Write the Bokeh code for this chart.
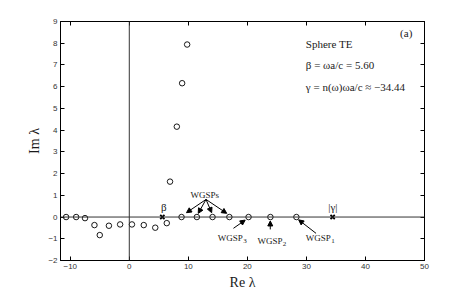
from bokeh.plotting import figure
from bokeh.models import (LinearAxis, Range1d, FixedTicker, Span, Label, Arrow,
                          NormalHead, ColumnDataSource, CustomJSTickFormatter)
from bokeh.embed import file_html
from bokeh.resources import INLINE

# ---- data ----
re_lam = [-10.7, -9.0, -7.5, -5.9, -5.0, -3.45, -1.55, 0.45, 2.45, 4.4, 6.35,
          6.9, 8.05, 8.95, 9.8,
          8.85, 11.45, 14.1, 16.95, 20.2, 23.9, 28.3]
im_lam = [0.0, 0.0, -0.05, -0.37, -0.83, -0.40, -0.34, -0.34, -0.37, -0.49, -0.28,
          1.63, 4.16, 6.16, 7.94,
          0.0, 0.0, 0.0, 0.0, 0.0, 0.0, 0.0]
beta = 5.60
gamma_abs = 34.44
x_ticks = [-10, 0, 10, 20, 30, 40, 50]
y_ticks = [-2, -1, 0, 1, 2, 3, 4, 5, 6, 7, 8, 9]

p = figure(output_backend="svg", toolbar_location=None,
           width=460, height=293,
           min_border_left=60, min_border_right=36, min_border_top=21,
           min_border_bottom=33,
           x_range=Range1d(-11.65, 50), y_range=Range1d(-2, 9))
p.background_fill_color = "white"
p.border_fill_color = "white"
p.outline_line_color = "black"
p.xgrid.visible = False
p.ygrid.visible = False

serif = "Liberation Serif"
sans = "Liberation Sans"
ink = "#1a1a1a"

def style_axis(ax, labels=True):
    ax.major_tick_in = 4
    ax.major_tick_out = 0
    ax.minor_tick_line_color = None
    ax.axis_line_color = "black"
    ax.major_tick_line_color = "black"
    if labels:
        ax.major_label_text_font = sans
        ax.major_label_text_font_size = "8px"
        ax.major_label_text_color = "#333333"
        ax.major_label_standoff = 3
    else:
        ax.formatter = CustomJSTickFormatter(code="return ''")
        ax.major_label_standoff = 0

p.xaxis.ticker = FixedTicker(ticks=x_ticks)
p.yaxis.ticker = FixedTicker(ticks=y_ticks)
p.xaxis.major_label_overrides = {t: (str(t).replace("-", "\u2212")) for t in x_ticks}
p.yaxis.major_label_overrides = {t: (str(t).replace("-", "\u2212")) for t in y_ticks}
style_axis(p.xaxis[0])
style_axis(p.yaxis[0])
p.xaxis.axis_label = "Re \u03bb"
p.yaxis.axis_label = "Im \u03bb"
for ax in (p.xaxis[0], p.yaxis[0]):
    ax.axis_label_text_font = serif
    ax.axis_label_text_font_style = "normal"
    ax.axis_label_text_font_size = "14px"
    ax.axis_label_text_color = ink
p.xaxis.axis_label_standoff = 3
p.yaxis.axis_label_standoff = 3

top = LinearAxis(ticker=FixedTicker(ticks=x_ticks))
style_axis(top, labels=False)
p.add_layout(top, "above")
right = LinearAxis(ticker=FixedTicker(ticks=y_ticks))
style_axis(right, labels=False)
p.add_layout(right, "right")

# zero lines
p.add_layout(Span(location=0, dimension="width", line_color="#333333", line_width=1))
p.add_layout(Span(location=0, dimension="height", line_color="#333333", line_width=1))

src = ColumnDataSource(dict(x=re_lam, y=im_lam))
p.scatter("x", "y", source=src, marker="circle", size=5.5, fill_color=None,
          line_color="black", line_width=0.9)
p.scatter([beta, gamma_abs], [0, 0], marker="x", size=6, line_color="black",
          line_width=1.8)

def lab(x, y, t, size="11px", align="left", baseline="middle"):
    p.add_layout(Label(x=x, y=y, text=t, text_font=serif, text_font_size=size,
                       text_align=align, text_baseline=baseline, text_color=ink))

lab(29.9, 7.97, "Sphere TE")
lab(29.9, 6.99, "\u03b2 = \u03c9a/c = 5.60")
lab(29.9, 6.00, "\u03b3 = n(\u03c9)\u03c9a/c \u2248 \u221234.44")
lab(46.9, 8.45, "(a)", align="center")
lab(5.85, 0.46, "\u03b2", align="center")
lab(34.47, 0.46, "|\u03b3|", align="center")
lab(12.8, 1.03, "WGSPs", size="9px", align="center")

# WGSP_n labels with subscripts
lab(14.97, -0.98, "WGSP", size="9px")
lab(19.3, -1.12, "3", size="7px")
lab(21.7, -1.10, "WGSP", size="9px")
lab(26.0, -1.25, "2", size="7px")
lab(29.9, -0.95, "WGSP", size="9px")
lab(34.2, -1.09, "1", size="7px")

def arrow(x0, y0, x1, y1):
    p.add_layout(Arrow(end=NormalHead(size=5, fill_color="black", line_color="black"),
                       x_start=x0, y_start=y0, x_end=x1, y_end=y1,
                       line_color="black", line_width=1))

for xe, ye in [(9.69, 0.20), (11.68, 0.17), (13.95, 0.20), (16.5, 0.17)]:
    arrow(13.0, 0.81, xe, ye)
arrow(17.64, -0.52, 19.63, -0.14)
arrow(23.88, -0.57, 23.88, -0.18)
arrow(31.63, -0.75, 28.69, -0.13)

open("out.html", "w").write(file_html(p, INLINE))
